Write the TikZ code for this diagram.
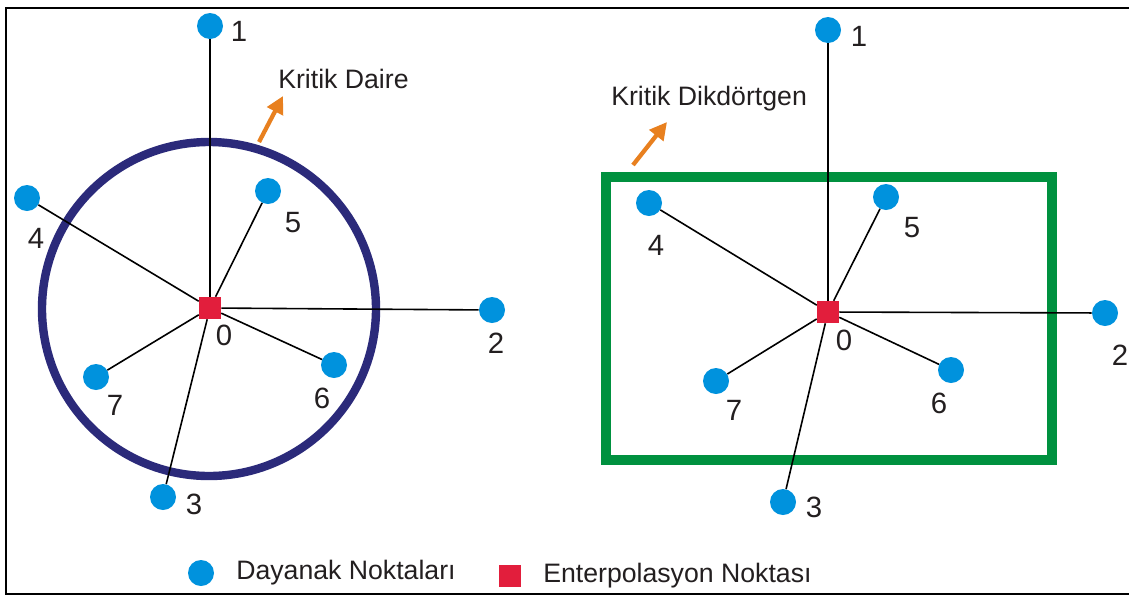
\documentclass[tikz,border=0pt]{standalone}
\usepackage{fontspec}
\setmainfont{Liberation Sans}
\usetikzlibrary{arrows.meta}
\definecolor{ptblue}{RGB}{0,146,221}
\definecolor{ptred}{RGB}{226,30,60}
\definecolor{navy}{RGB}{43,42,122}
\definecolor{boxgreen}{RGB}{0,145,63}
\definecolor{arrorange}{RGB}{232,128,31}
\definecolor{txt}{RGB}{35,31,32}
\tikzset{
  dayanak/.style={circle,fill=ptblue,inner sep=0pt,minimum size=19.5pt},
  interp/.style={rectangle,fill=ptred,inner sep=0pt,minimum size=16.5pt},
  num/.style={text=txt,font=\fontsize{22}{24}\selectfont,inner sep=0pt},
  lbl/.style={text=txt,font=\fontsize{20}{24}\selectfont,inner sep=0pt,anchor=west},
  ray/.style={draw=black,line width=1.2pt},
  pointer/.style={draw=arrorange,line width=3.2pt,-{Triangle[length=13pt,width=13pt]}},
  frame/.style={draw=black,line width=2.2pt}
}
\begin{document}
\begin{tikzpicture}[x=0.75pt,y=-0.75pt]
\useasboundingbox (0,0) rectangle (1129,597);
\fill[white] (0,0) rectangle (1129,597);
\draw[frame] (1140,8) -| (6,594) -- (1140,594);

% ---------- left: Kritik Daire ----------
\draw[navy,line width=6.3pt] (209,309) circle[radius=167];
\node[interp] (L0) at (210,308) {};
\node[dayanak] (L1) at (210,26) {};
\node[dayanak] (L2) at (492,310) {};
\node[dayanak] (L3) at (163,497) {};
\node[dayanak] (L4) at (27,198) {};
\node[dayanak] (L5) at (268,191) {};
\node[dayanak] (L6) at (334,365) {};
\node[dayanak] (L7) at (96,377) {};
\foreach \i in {1,...,7} {\draw[ray] (L0) -- (L\i);}
\node[num] (LT0) at (224,335) {0};
\node[num] (LT1) at (239,31) {1};
\node[num] (LT2) at (496,343) {2};
\node[num] (LT3) at (194,504) {3};
\node[num] (LT4) at (36,238) {4};
\node[num] (LT5) at (293,223) {5};
\node[num] (LT6) at (322,398) {6};
\node[num] (LT7) at (115,405) {7};
\node[lbl] (kd) at (278,79) {Kritik Daire};
\coordinate (a1s) at (259,142);
\coordinate (a1e) at (283,96);
\draw[pointer] (a1s) -- (a1e);

% ---------- right: Kritik Dikdörtgen ----------
\draw[boxgreen,line width=6.8pt] (606,177) rectangle (1052,460);
\node[interp] (R0) at (828,312) {};
\node[dayanak] (R1) at (828,30) {};
\node[dayanak] (R2) at (1105,313) {};
\node[dayanak] (R3) at (783,502) {};
\node[dayanak] (R4) at (649,203) {};
\node[dayanak] (R5) at (886,197) {};
\node[dayanak] (R6) at (951,370) {};
\node[dayanak] (R7) at (716,381) {};
\foreach \i in {1,...,7} {\draw[ray] (R0) -- (R\i);}
\node[num] (RT0) at (844,340) {0};
\node[num] (RT1) at (859,36) {1};
\node[num] (RT2) at (1120,355) {2};
\node[num] (RT3) at (814,507) {3};
\node[num] (RT4) at (656,245) {4};
\node[num] (RT5) at (912,228) {5};
\node[num] (RT6) at (939,403) {6};
\node[num] (RT7) at (734,410) {7};
\node[lbl] (kdd) at (611,99) {Kritik Dikdörtgen};
\coordinate (a2s) at (633,165);
\coordinate (a2e) at (667,122);
\draw[pointer] (a2s) -- (a2e);

% ---------- legend ----------
\node[dayanak] (legb) at (201,573) {};
\node[lbl] (legbt) at (236,573) {Dayanak Noktaları};
\node[interp] (legr) at (510,576) {};
\node[lbl] (legrt) at (543,576) {Enterpolasyon Noktası};
\end{tikzpicture}
\end{document}
